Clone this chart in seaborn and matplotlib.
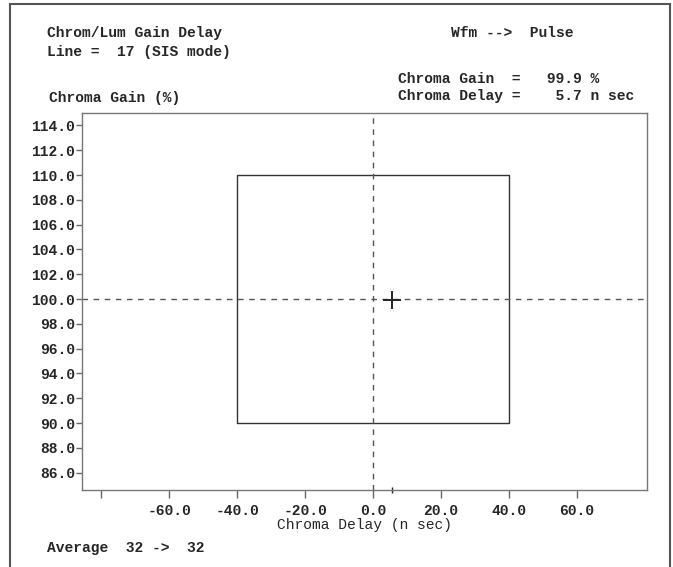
import pandas as pd
import matplotlib.pyplot as plt
import seaborn as sns
from matplotlib.patches import Rectangle

# Limit box (n sec / %) and the measured point
limit_delay = [-40.0, 40.0]
limit_gain = [90.0, 110.0]
ref_delay = 0.0
ref_gain = 100.0
meas_delay = 5.7
meas_gain = 99.9

xtick_vals = [-80, -60, -40, -20, 0, 20, 40, 60]
xtick_labels = ['', '-60.0', '-40.0', '-20.0', '0.0', '20.0', '40.0', '60.0']
ytick_vals = [86, 88, 90, 92, 94, 96, 98, 100, 102, 104, 106, 108, 110, 112, 114]

W, H = 673, 567

sns.set_style('ticks')
plt.rcParams['font.family'] = ['Liberation Mono', 'DejaVu Sans Mono']
plt.rcParams['font.weight'] = 'bold'
plt.rcParams['font.size'] = 10.5

fig = plt.figure(figsize=(W / 100, H / 100), dpi=100)
ax = fig.add_axes([82 / W, 77 / H, 565 / W, 377 / H])

# Limit box as a closed outline
box = pd.DataFrame({
    'delay': [limit_delay[0], limit_delay[1], limit_delay[1], limit_delay[0], limit_delay[0]],
    'gain': [limit_gain[0], limit_gain[0], limit_gain[1], limit_gain[1], limit_gain[0]],
})
sns.lineplot(data=box, x='delay', y='gain', sort=False, estimator=None,
             color='#333333', linewidth=1.0, ax=ax)

# Reference cross-hair
ax.axvline(ref_delay, color='#555555', linewidth=1.0, linestyle=(0, (4, 4)))
ax.axhline(ref_gain, color='#555555', linewidth=1.0, linestyle=(0, (4, 4)))

# Measured point
meas = pd.DataFrame({'delay': [meas_delay], 'gain': [meas_gain]})
sns.scatterplot(data=meas, x='delay', y='gain', marker='+', s=150,
                color='#222222', linewidth=1.4, ax=ax, zorder=5)
ax.plot([meas_delay], [0], marker='|', markersize=4, color='#222222',
        transform=ax.get_xaxis_transform(), clip_on=False)

ax.set_xlim(-85.6, 80.6)
ax.set_ylim(84.6, 115.0)
ax.set_xticks(xtick_vals)
ax.set_xticklabels(xtick_labels)
ax.set_yticks(ytick_vals)
ax.set_yticklabels([f'{v:.1f}' for v in ytick_vals])
ax.tick_params(axis='x', direction='out', length=6, width=1, color='#666666', pad=4)
ax.tick_params(axis='y', direction='out', length=4, width=1, color='#666666', pad=1)
for sp in ax.spines.values():
    sp.set_visible(True)
    sp.set_color('#777777')
    sp.set_linewidth(1.0)

ax.set_xlabel('Chroma Delay (n sec)', labelpad=0)
ax.set_ylabel('')


def put(x, y, s):
    fig.text(x / W, 1 - y / H, s, ha='left', va='center')


put(47, 33, 'Chrom/Lum Gain Delay')
put(47, 52, 'Line =  17 (SIS mode)')
put(451, 33, 'Wfm -->  Pulse')
put(398, 79, 'Chroma Gain  =   99.9 %')
put(398, 96, f'Chroma Delay =    {meas_delay:.1f} n sec')
put(49, 98, 'Chroma Gain (%)')
put(47, 548, 'Average  32 ->  32')

# Outer frame
fig.add_artist(Rectangle((10 / W, -0.05), 660 / W, 1.05 - 4 / H,
                         transform=fig.transFigure, fill=False,
                         edgecolor='#555555', linewidth=1.5))

fig.savefig('out.png', dpi=100)
